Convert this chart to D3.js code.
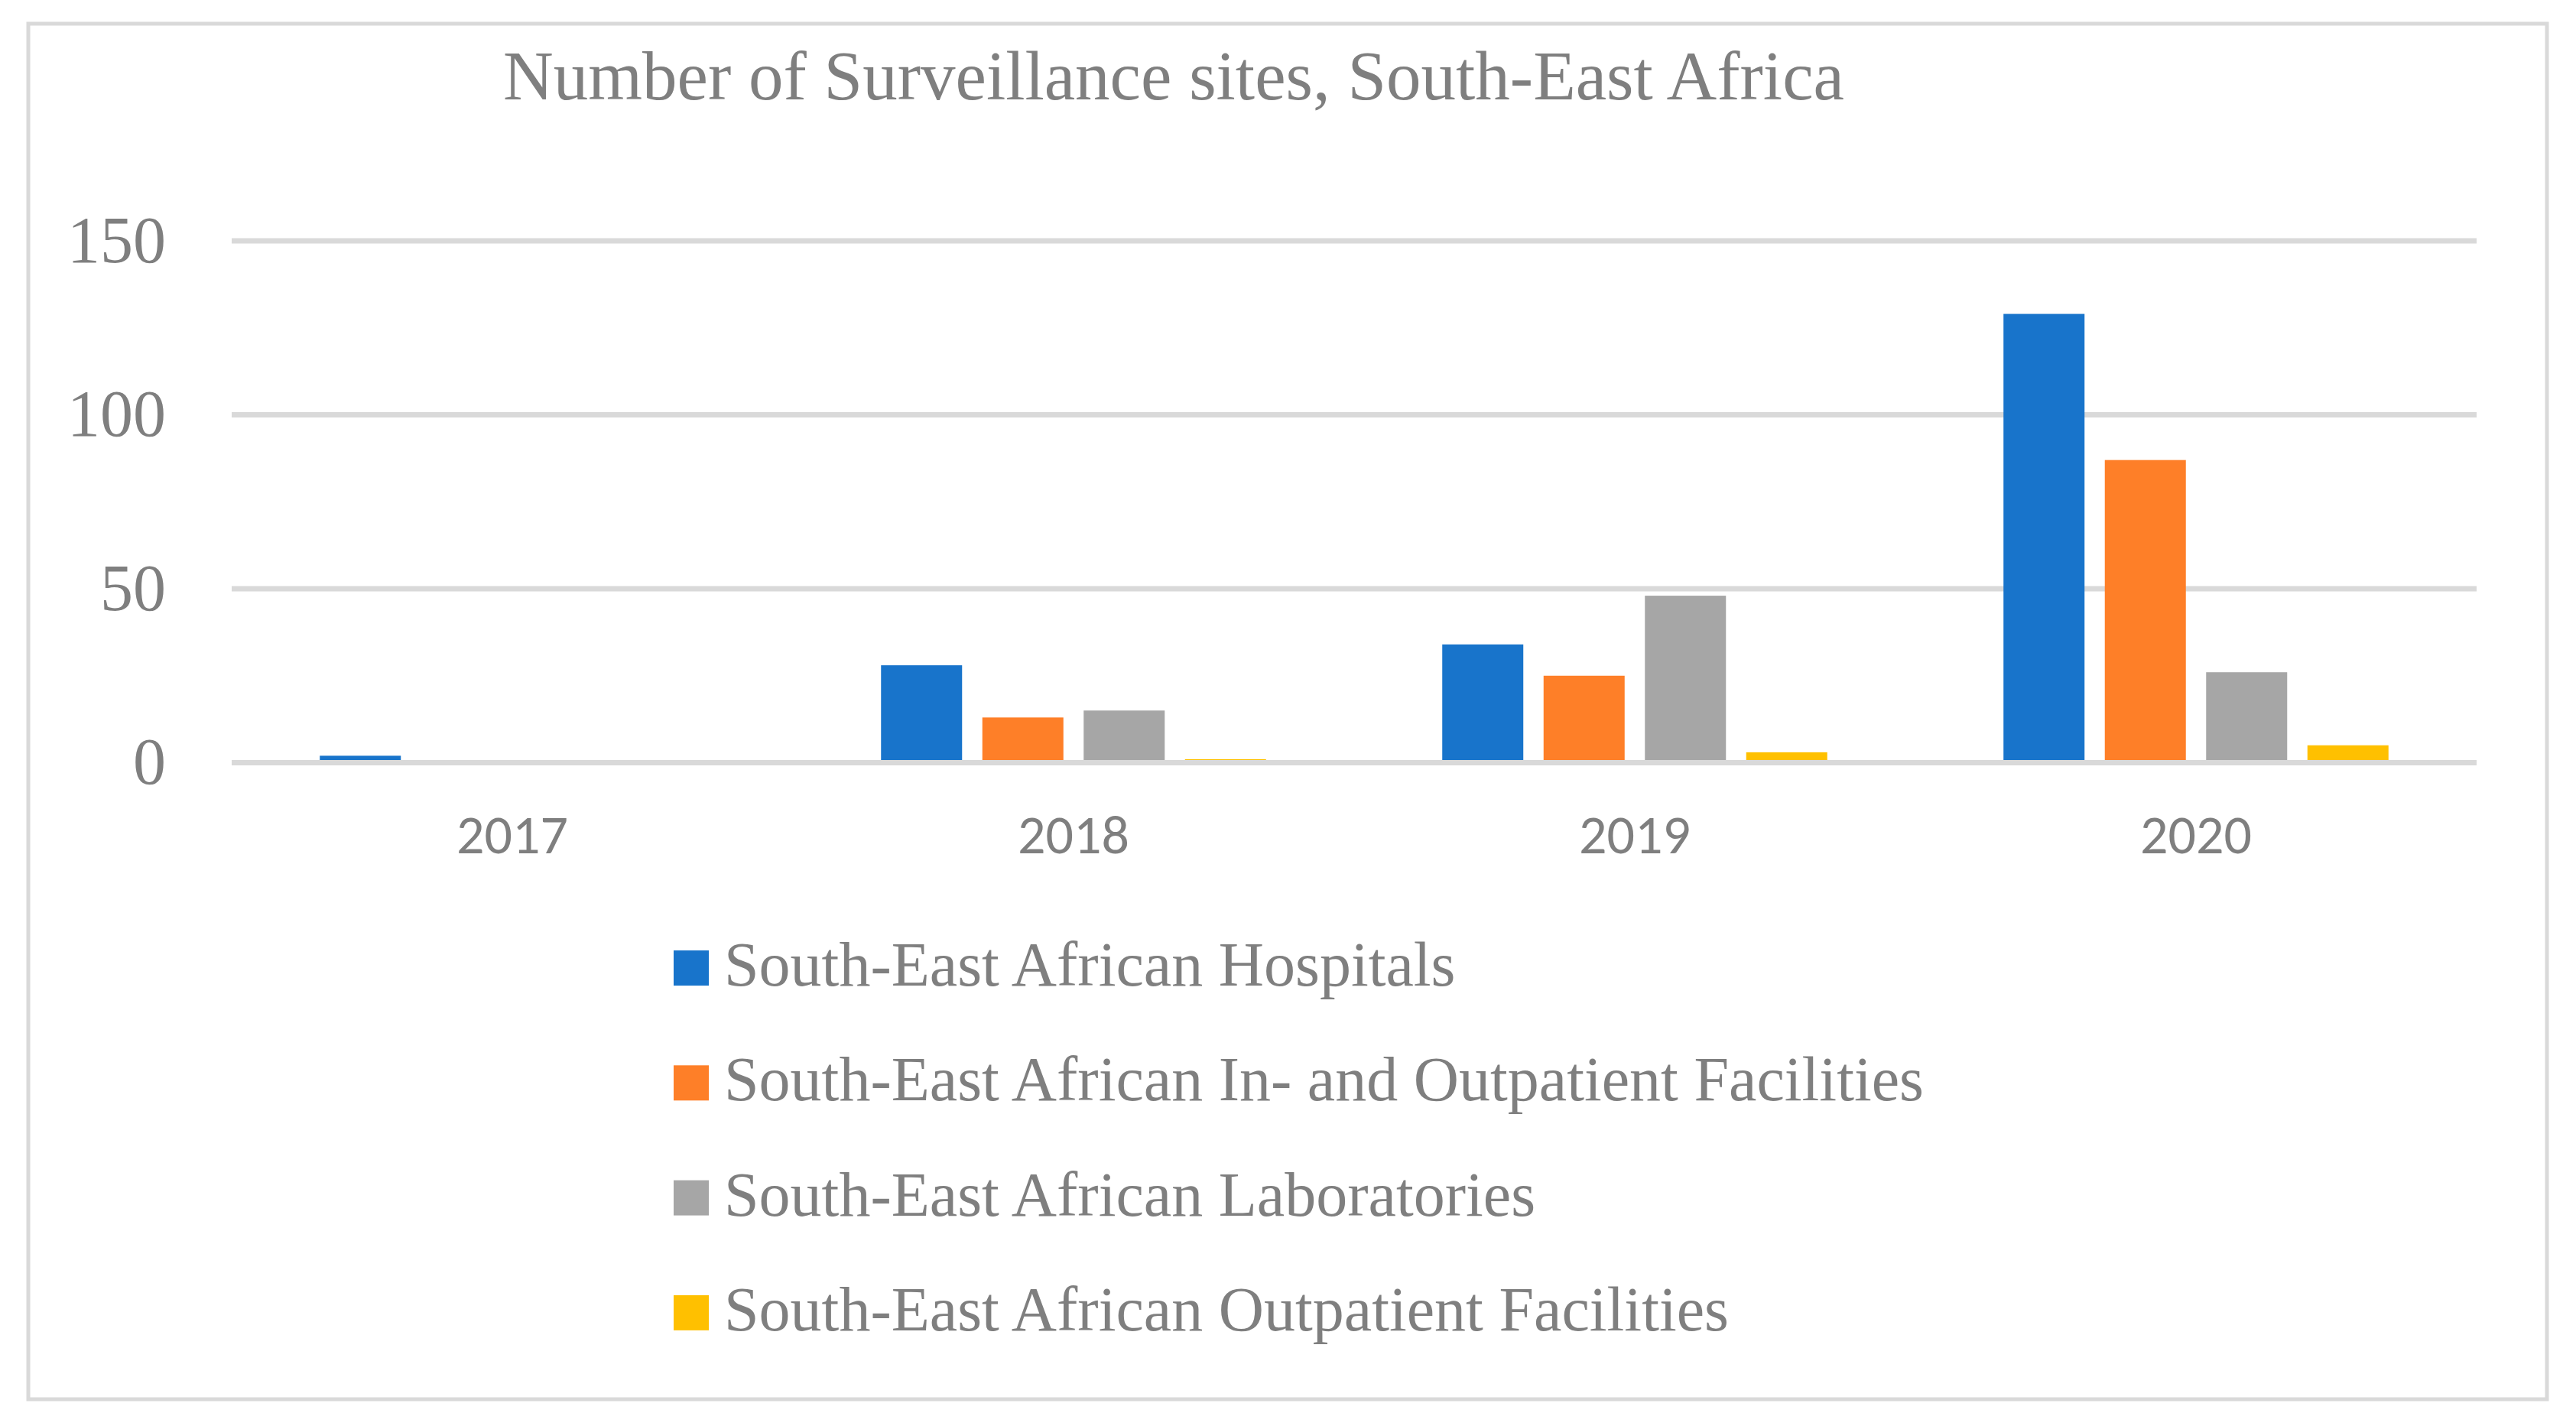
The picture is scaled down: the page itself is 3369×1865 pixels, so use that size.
<!DOCTYPE html>
<html>
<head>
<meta charset="utf-8">
<script src="https://cdn.jsdelivr.net/npm/d3@7"></script>
<style>
  body { margin: 0; background: #fff; }
  .serif { font-family: 'Palatino Linotype', 'Book Antiqua', Palatino, 'Liberation Serif', serif; fill: #7f7f7f; }
  .sans { font-family: Carlito, Calibri, 'Liberation Sans Narrow', 'Liberation Sans', sans-serif; fill: #7f7f7f; }
</style>
</head>
<body>
<script>
const years = ['2017', '2018', '2019', '2020']
const seriesNames = [
  'South-East African Hospitals',
  'South-East African In- and Outpatient Facilities',
  'South-East African Laboratories',
  'South-East African Outpatient Facilities'
]
const hospitals = [2, 28, 34, 129]
const inOutpatient = [0, 13, 25, 87]
const laboratories = [0, 15, 48, 26]
const outpatient = [0, 1, 3, 5]
const yTicks = [0, 50, 100, 150]
const colors = ['#1874cb', '#fe7f28', '#a6a6a6', '#ffc000']

const seriesValues = [hospitals, inOutpatient, laboratories, outpatient]

const W = 3369
const H = 1865
const plot = { left: 303, right: 3239, top: 315, bottom: 997.5 }

const svg = d3.select('body').append('svg')
  .attr('width', W)
  .attr('height', H)

svg.append('rect')
  .attr('width', W).attr('height', H)
  .attr('fill', '#fff')

// chart frame
svg.append('rect')
  .attr('x', 37).attr('y', 31)
  .attr('width', 3294).attr('height', 1799)
  .attr('fill', 'none')
  .attr('stroke', '#d9d9d9')
  .attr('stroke-width', 5)

svg.append('text')
  .attr('class', 'serif')
  .attr('x', 1535).attr('y', 130)
  .attr('text-anchor', 'middle')
  .style('font-size', '91px')
  .text('Number of Surveillance sites, South-East Africa')

let x0 = d3.scaleBand()
  .domain(years)
  .range([plot.left, plot.right])

let inset = x0.bandwidth() * 0.157
let x1 = d3.scaleBand()
  .domain(d3.range(seriesNames.length))
  .range([inset, x0.bandwidth() - inset])
  .paddingInner(0.2)

let y = d3.scaleLinear()
  .domain([0, 150])
  .range([plot.bottom, plot.top])

// gridlines (behind bars)
svg.append('g')
  .selectAll('line')
  .data(yTicks.filter(d => d > 0))
  .join('line')
    .attr('x1', plot.left).attr('x2', plot.right)
    .attr('y1', d => y(d)).attr('y2', d => y(d))
    .attr('stroke', '#d9d9d9')
    .attr('stroke-width', 7)

svg.append('g')
  .selectAll('text')
  .data(yTicks)
  .join('text')
    .attr('class', 'serif')
    .attr('x', 217)
    .attr('y', d => y(d))
    .attr('dy', '0.32em')
    .attr('text-anchor', 'end')
    .style('font-size', '86px')
    .text(d => d)

// bars
let groups = svg.append('g')
  .selectAll('g')
  .data(years)
  .join('g')
    .attr('transform', d => `translate(${x0(d)},0)`)

groups.selectAll('rect')
  .data((d, i) => seriesValues.map((vals, s) => ({ s, v: vals[i] })))
  .join('rect')
    .attr('x', d => x1(d.s))
    .attr('width', x1.bandwidth())
    .attr('y', d => y(d.v))
    .attr('height', d => y(0) - y(d.v))
    .attr('fill', d => colors[d.s])

// category axis line on top of bars
svg.append('line')
  .attr('x1', plot.left).attr('x2', plot.right)
  .attr('y1', y(0)).attr('y2', y(0))
  .attr('stroke', '#d9d9d9')
  .attr('stroke-width', 7)

svg.append('g')
  .selectAll('text')
  .data(years)
  .join('text')
    .attr('class', 'sans')
    .attr('x', d => x0(d) + x0.bandwidth() / 2)
    .attr('y', 1116)
    .attr('text-anchor', 'middle')
    .style('font-size', '72px')
    .text(d => d)

// legend
let legend = svg.append('g')
  .selectAll('g')
  .data(seriesNames)
  .join('g')
    .attr('transform', (d, i) => `translate(881,${1266 + i * 150.3})`)

legend.append('rect')
  .attr('x', 0).attr('y', -23)
  .attr('width', 46).attr('height', 46)
  .attr('fill', (d, i) => colors[i])

legend.append('text')
  .attr('class', 'serif')
  .attr('x', 66).attr('y', 23)
  .style('font-size', '82px')
  .text(d => d)
</script>
</body>
</html>
